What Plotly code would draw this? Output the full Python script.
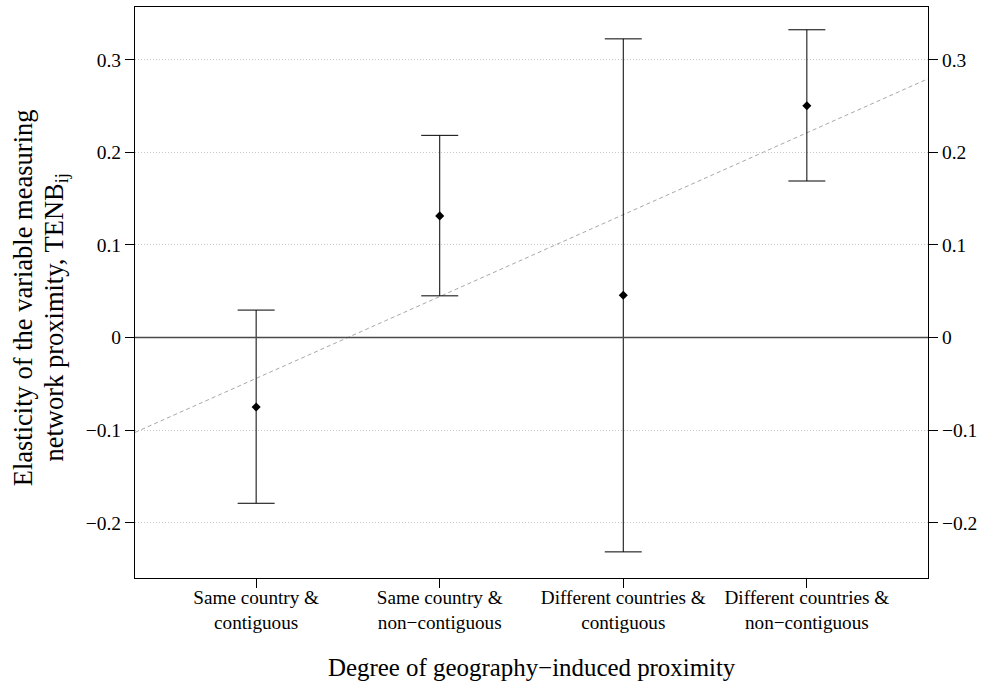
import plotly.graph_objects as go

categories = [1, 2, 3, 4]
category_labels = ["Same country &<br>contiguous", "Same country &<br>non\u2212contiguous",
                   "Different countries &<br>contiguous", "Different countries &<br>non\u2212contiguous"]
estimates = [-0.0751, 0.1313, 0.0457, 0.2503]
upper = [0.0296, 0.2183, 0.3225, 0.3323]
lower = [-0.179, 0.045, -0.2315, 0.169]
fit_x = [0.34, 4.66]
fit_y = [-0.1025, 0.2794]
y_ticks = [-0.2, -0.1, 0, 0.1, 0.2, 0.3]

x_range = [0.34, 4.66]
y_range = [-0.2597, 0.3569]

FONT = "Liberation Serif"

err_plus = [u - e for u, e in zip(upper, estimates)]
err_minus = [e - l for e, l in zip(estimates, lower)]

fig = go.Figure()

# regression line (dashed grey)
fig.add_trace(go.Scatter(x=fit_x, y=fit_y, mode="lines",
                         line=dict(color="#a8a8a8", width=1, dash="4px,3px"),
                         hoverinfo="skip", showlegend=False))

fig.add_trace(go.Scatter(
    x=categories, y=estimates, mode="markers",
    marker=dict(symbol="diamond", size=7, color="black"),
    error_y=dict(type="data", symmetric=False, array=err_plus, arrayminus=err_minus,
                 color="black", thickness=1, width=18.5),
    showlegend=False))

# invisible trace so the right-hand axis is drawn
fig.add_trace(go.Scatter(x=categories, y=estimates, yaxis="y2", mode="markers",
                         marker=dict(opacity=0, size=1), hoverinfo="skip", showlegend=False))

fig.add_shape(type="line", xref="paper", yref="y", x0=0, x1=1, y0=0, y1=0,
              line=dict(color="#4a4a4a", width=1.3))

fig.update_layout(
    width=986, height=683, autosize=False,
    margin=dict(l=135, r=58, t=7, b=105),
    paper_bgcolor="white", plot_bgcolor="white",
    font=dict(family=FONT, color="black"),
    xaxis=dict(range=x_range, tickvals=categories, ticktext=category_labels,
               ticks="outside", ticklen=9, tickwidth=1, tickcolor="black",
               ticklabelstandoff=-7,
               tickfont=dict(size=19.2, family=FONT, color="black"),
               showgrid=False, zeroline=False,
               showline=True, linecolor="black", linewidth=1, mirror=True),
    yaxis=dict(range=y_range, tickvals=y_ticks, ticks="outside", ticklen=9,
               tickwidth=1, tickcolor="black",
               tickfont=dict(size=19.5, family=FONT, color="black"),
               showgrid=True, gridcolor="#c8c8c8", gridwidth=1, griddash="1px,2px",
               zeroline=False, showline=True, linecolor="black", linewidth=1, mirror=True),
    yaxis2=dict(range=y_range, tickvals=y_ticks, overlaying="y", side="right",
                ticks="outside", ticklen=9, tickwidth=1, tickcolor="black",
                tickfont=dict(size=19.5, family=FONT, color="black"),
                showgrid=False, zeroline=False, showline=False),
    annotations=[
        dict(text="Degree of geography\u2212induced proximity", xref="paper", yref="paper",
             x=0.5, y=-0.157, xanchor="center", yanchor="middle", showarrow=False,
             font=dict(size=24.9, family=FONT, color="black")),
        dict(text="Elasticity of the variable measuring", xref="paper", yref="paper",
             x=-0.142, y=0.4906, xanchor="center", yanchor="middle", textangle=-90,
             showarrow=False, font=dict(size=26.5, family=FONT, color="black")),
        dict(text="network proximity, TENB<sub>ij</sub>", xref="paper", yref="paper",
             x=-0.0994, y=0.4565, xanchor="center", yanchor="middle", textangle=-90,
             showarrow=False, font=dict(size=26.5, family=FONT, color="black")),
    ],
)

fig.write_html("out.html", config={"displayModeBar": False},
               post_script="document.body.style.margin='0';")
